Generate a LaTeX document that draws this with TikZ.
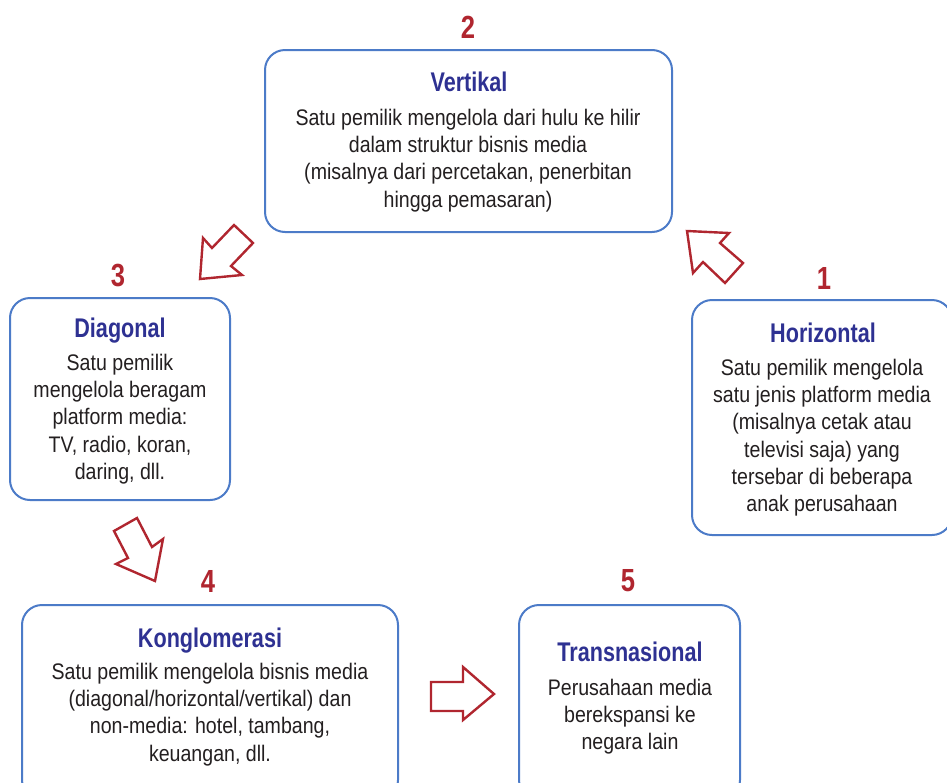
\documentclass[tikz,border=0pt]{standalone}
\usepackage{fontspec}
\setmainfont{Liberation Sans}[FakeStretch=0.87]
\newfontfamily\titlefam{Liberation Sans}[FakeStretch=0.8]
\definecolor{boxblue}{HTML}{4C7BC8}
\definecolor{titleblue}{HTML}{2E3192}
\definecolor{numred}{HTML}{B0262F}
\definecolor{txt}{HTML}{231F20}
\tikzset{
  cardbox/.style={draw=boxblue, line width=2pt, rounded corners=20pt, fill=white},
  numlbl/.style={text=numred, font=\titlefam\bfseries\fontsize{32}{32}\selectfont, inner sep=0pt},
  ttl/.style={text=titleblue, font=\titlefam\bfseries\fontsize{27}{27}\selectfont, inner sep=0pt, anchor=base},
  body/.style={text=txt, font=\fontsize{22.5}{27.2}\selectfont, align=center, inner sep=0pt, anchor=north},
  blockarrow/.style={draw=numred, line width=2.4pt, fill=white, line join=miter}
}
\begin{document}
\begin{tikzpicture}[x=1pt,y=-1pt]
\useasboundingbox (0,0) rectangle (947,782);
\clip (0,0) rectangle (947,782);
% boxes
\draw[cardbox] (265,50) rectangle (672,232);
\draw[cardbox] (10,298) rectangle (230,500);
\draw[cardbox] (692,300) rectangle (952,535);
\draw[cardbox] (22,605) rectangle (398,800);
\draw[cardbox] (519,605) rectangle (740,800);
% numbers
\node[numlbl] (n2) at (468,27) {2};
\node[numlbl] (n3) at (118,276) {3};
\node[numlbl] (n1) at (824,278) {1};
\node[numlbl] (n4) at (208,581) {4};
\node[numlbl] (n5) at (628,581) {5};
% titles
\node[ttl] (t2) at (469,91) {Vertikal};
\node[ttl] (t3) at (120,337) {Diagonal};
\node[ttl] (t1) at (823,342) {Horizontal};
\node[ttl] (t4) at (210,647) {Konglomerasi};
\node[ttl] (t5) at (630,661) {Transnasional};
% bodies
\node[body] (b2) at (468,109) {Satu pemilik mengelola dari hulu ke hilir\\dalam struktur bisnis media\\(misalnya dari percetakan, penerbitan\\hingga pemasaran)};
\node[body] (b3) at (120,354) {Satu pemilik\\mengelola beragam\\platform media:\\TV, radio, koran,\\daring, dll.};
\node[body] (b1) at (822,359) {Satu pemilik mengelola\\satu jenis platform media\\(misalnya cetak atau\\televisi saja) yang\\tersebar di beberapa\\anak perusahaan};
\node[body] (b4) at (210,663) {Satu pemilik mengelola bisnis media\\(diagonal/horizontal/vertikal) dan\\non-media: hotel, tambang,\\keuangan, dll.};
\node[body] (b5) at (630,679) {Perusahaan media\\berekspansi ke\\negara lain};
% block arrows
\draw[blockarrow] (200,279) -- (203,238) -- (212,248) -- (234,225) -- (253,243) -- (231,266) -- (242,275) -- cycle;
\draw[blockarrow] (687,231) -- (729,233) -- (720,243) -- (743,263) -- (725,283) -- (703,262) -- (693,273) -- cycle;
\draw[blockarrow] (114,531) -- (137,518) -- (152,547) -- (163,539) -- (155,581) -- (116,564) -- (128,558) -- cycle;
\draw[blockarrow] (431,682) -- (463,682) -- (463,667) -- (494,694) -- (463,720) -- (463,711) -- (431,711) -- cycle;
\end{tikzpicture}
\end{document}
